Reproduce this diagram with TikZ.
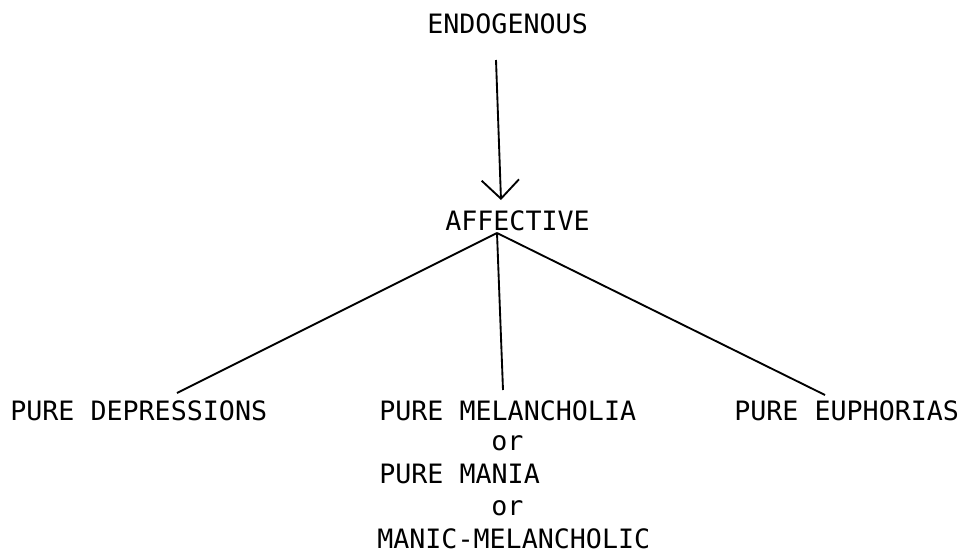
\documentclass[tikz,border=0pt]{standalone}
\usepackage{fontspec}
\newfontfamily\tw{DejaVu Sans Mono}
\usetikzlibrary{arrows.meta}
\begin{document}
\begin{tikzpicture}[x=0.75pt,y=-0.75pt,
  lbl/.style={anchor=base west,inner sep=0pt,font=\tw\fontsize{20}{24}\selectfont},
  conn/.style={line width=1.4pt},
  arr/.style={conn,-{Straight Barb[length=14pt,width=28pt,line width=1.4pt]}}]
\useasboundingbox (0,0) rectangle (967,553);
\node[lbl] (endo) at (427,33) {ENDOGENOUS};
\node[lbl] (aff) at (445,230) {AFFECTIVE};
\node[lbl] (dep) at (10,420) {PURE DEPRESSIONS};
\node[lbl] (mel) at (379,420) {PURE MELANCHOLIA};
\node[lbl] (or1) at (491,450) {or};
\node[lbl] (mania) at (379,483) {PURE MANIA};
\node[lbl] (or2) at (491,515) {or};
\node[lbl] (manic) at (377,548) {MANIC-MELANCHOLIC};
\node[lbl] (euph) at (734,420) {PURE EUPHORIAS};
\draw[arr] ([shift={(69,27)}]endo.base west) -- ([shift={(56,-30)}]aff.base west);
\draw[conn] ([shift={(52,3)}]aff.base west) -- ([shift={(167,-27)}]dep.base west);
\draw[conn] ([shift={(52,3)}]aff.base west) -- ([shift={(124,-30)}]mel.base west);
\draw[conn] ([shift={(52,3)}]aff.base west) -- ([shift={(91,-25)}]euph.base west);
\end{tikzpicture}
\end{document}
